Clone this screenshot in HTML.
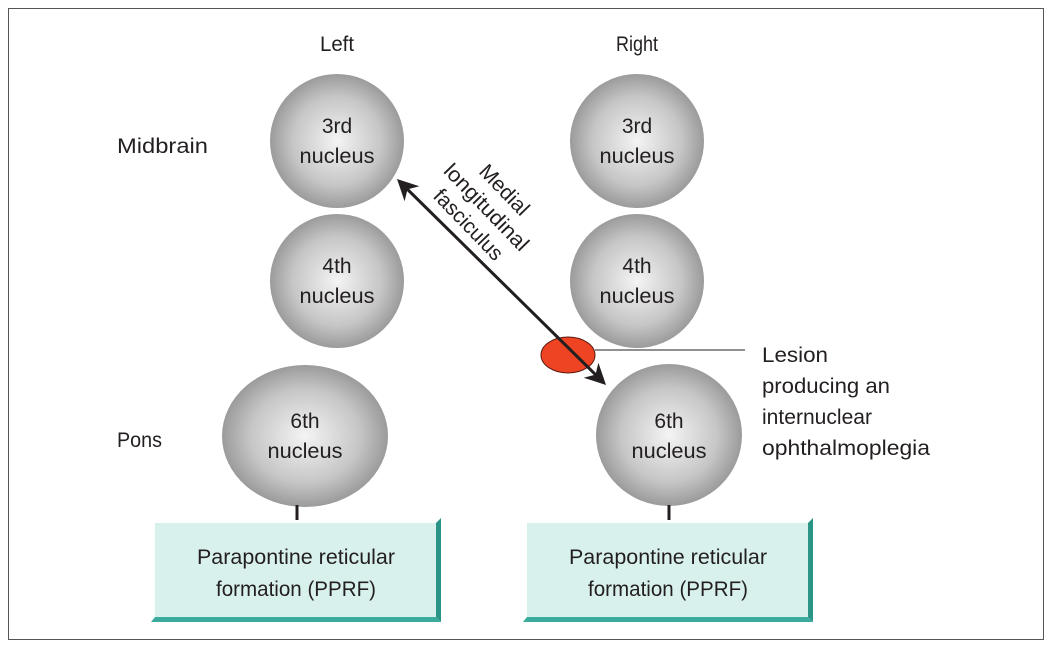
<!DOCTYPE html>
<html><head><style>
body{margin:0;background:#fff}
svg{display:block}
text{font-family:"Liberation Sans",sans-serif;font-size:21px;fill:#231f20}
</style></head><body>
<svg width="1053" height="649" viewBox="0 0 1053 649">
<defs>
<radialGradient id="g" cx="0.5" cy="0.5" r="0.55">
<stop offset="0" stop-color="#f4f4f4"/><stop offset="0.6" stop-color="#c6c6c6"/><stop offset="1" stop-color="#8e8e8e"/>
</radialGradient>
<marker id="a" viewBox="0 0 10 10" refX="8" refY="5" markerWidth="7" markerHeight="7" orient="auto-start-reverse">
<path d="M0,0 L10,5 L0,10 L3,5z" fill="#231f20"/></marker>
</defs>
<rect x="8.5" y="8.5" width="1035" height="631" fill="none" stroke="#555" stroke-width="1"/>
<text x="337" y="51" text-anchor="middle" textLength="34" lengthAdjust="spacingAndGlyphs">Left</text>
<text x="637" y="51" text-anchor="middle" textLength="42" lengthAdjust="spacingAndGlyphs">Right</text>
<text x="117" y="153" textLength="91" lengthAdjust="spacingAndGlyphs">Midbrain</text>
<text x="117" y="447" textLength="45" lengthAdjust="spacingAndGlyphs">Pons</text>
<g text-anchor="middle">
<circle cx="337" cy="141" r="67" fill="url(#g)"/>
<text x="337" y="133">3rd</text><text x="337" y="163" textLength="75" lengthAdjust="spacingAndGlyphs">nucleus</text>
<circle cx="337" cy="281" r="67" fill="url(#g)"/>
<text x="337" y="273">4th</text><text x="337" y="303" textLength="75" lengthAdjust="spacingAndGlyphs">nucleus</text>
<circle cx="637" cy="141" r="67" fill="url(#g)"/>
<text x="637" y="133">3rd</text><text x="637" y="163" textLength="75" lengthAdjust="spacingAndGlyphs">nucleus</text>
<circle cx="637" cy="281" r="67" fill="url(#g)"/>
<text x="637" y="273">4th</text><text x="637" y="303" textLength="75" lengthAdjust="spacingAndGlyphs">nucleus</text>
<ellipse cx="305" cy="436" rx="83" ry="71" fill="url(#g)"/>
<text x="305" y="428">6th</text><text x="305" y="458" textLength="75" lengthAdjust="spacingAndGlyphs">nucleus</text>
<ellipse cx="669" cy="435" rx="73" ry="71" fill="url(#g)"/>
<text x="669" y="428">6th</text><text x="669" y="458" textLength="75" lengthAdjust="spacingAndGlyphs">nucleus</text>
</g>
<line x1="297" y1="505" x2="297" y2="520" stroke="#231f20" stroke-width="3"/>
<line x1="669" y1="505" x2="669" y2="520" stroke="#231f20" stroke-width="3"/>
<g>
<polygon points="155,617 436,617 441,622 151,622" fill="#3aab9c"/>
<polygon points="436,523 441,518 441,622 436,617" fill="#2a9486"/>
<rect x="155" y="523" width="281" height="94" fill="#d9f1ed"/>
<polygon points="527,617 808,617 813,622 523,622" fill="#3aab9c"/>
<polygon points="808,523 813,518 813,622 808,617" fill="#2a9486"/>
<rect x="527" y="523" width="281" height="94" fill="#d9f1ed"/>
</g>
<g text-anchor="middle">
<text x="296" y="564" textLength="198" lengthAdjust="spacingAndGlyphs">Parapontine reticular</text><text x="296" y="596" textLength="160" lengthAdjust="spacingAndGlyphs">formation (PPRF)</text>
<text x="668" y="564" textLength="198" lengthAdjust="spacingAndGlyphs">Parapontine reticular</text><text x="668" y="596" textLength="160" lengthAdjust="spacingAndGlyphs">formation (PPRF)</text>
</g>
<ellipse cx="568" cy="355" rx="27" ry="18" fill="#ee4423" stroke="#5a1a10" stroke-width="1"/>
<line x1="595" y1="350" x2="745" y2="350" stroke="#231f20" stroke-width="1"/>
<line x1="400" y1="182" x2="603" y2="382" stroke="#231f20" stroke-width="3" marker-start="url(#a)" marker-end="url(#a)"/>
<g transform="rotate(46 467 226)" text-anchor="middle">
<text x="467" y="181" textLength="62" lengthAdjust="spacingAndGlyphs">Medial</text><text x="467" y="206" textLength="112" lengthAdjust="spacingAndGlyphs">longitudinal</text><text x="467" y="231" textLength="90" lengthAdjust="spacingAndGlyphs">fasciculus</text>
</g>
<text x="762" y="362" textLength="66" lengthAdjust="spacingAndGlyphs">Lesion</text>
<text x="762" y="393" textLength="128" lengthAdjust="spacingAndGlyphs">producing an</text>
<text x="762" y="424" textLength="110" lengthAdjust="spacingAndGlyphs">internuclear</text>
<text x="762" y="455" textLength="168" lengthAdjust="spacingAndGlyphs">ophthalmoplegia</text>
</svg>
</body></html>
